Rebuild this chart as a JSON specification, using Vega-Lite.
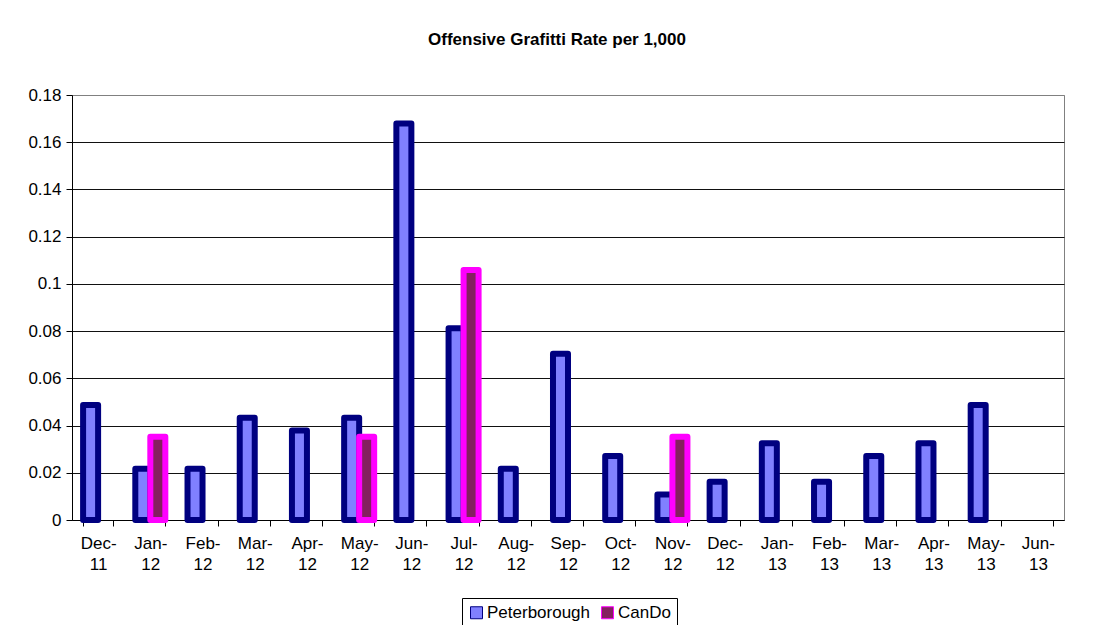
{
  "$schema": "https://vega.github.io/schema/vega-lite/v6.json",
  "autosize": "none",
  "padding": {"left": 72, "top": 95, "right": 31, "bottom": 105},
  "width": 992,
  "height": 425,
  "background": "white",
  "title": {
    "text": "Offensive Grafitti Rate per 1,000",
    "font": "Liberation Sans",
    "fontSize": 17,
    "fontWeight": "bold",
    "color": "#000000",
    "anchor": "middle",
    "frame": "group",
    "baseline": "alphabetic",
    "dx": -11,
    "offset": 24
  },
  "data": {
    "values": [
      {"month": "Dec-11", "series": "Peterborough", "rate": 0.0487},
      {"month": "Jan-12", "series": "Peterborough", "rate": 0.0217},
      {"month": "Jan-12", "series": "CanDo", "rate": 0.0353},
      {"month": "Feb-12", "series": "Peterborough", "rate": 0.0217},
      {"month": "Mar-12", "series": "Peterborough", "rate": 0.0433},
      {"month": "Apr-12", "series": "Peterborough", "rate": 0.0379},
      {"month": "May-12", "series": "Peterborough", "rate": 0.0433},
      {"month": "May-12", "series": "CanDo", "rate": 0.0353},
      {"month": "Jun-12", "series": "Peterborough", "rate": 0.1679},
      {"month": "Jul-12", "series": "Peterborough", "rate": 0.0812},
      {"month": "Jul-12", "series": "CanDo", "rate": 0.1059},
      {"month": "Aug-12", "series": "Peterborough", "rate": 0.0217},
      {"month": "Sep-12", "series": "Peterborough", "rate": 0.0704},
      {"month": "Oct-12", "series": "Peterborough", "rate": 0.0271},
      {"month": "Nov-12", "series": "Peterborough", "rate": 0.0108},
      {"month": "Nov-12", "series": "CanDo", "rate": 0.0353},
      {"month": "Dec-12", "series": "Peterborough", "rate": 0.0162},
      {"month": "Jan-13", "series": "Peterborough", "rate": 0.0325},
      {"month": "Feb-13", "series": "Peterborough", "rate": 0.0162},
      {"month": "Mar-13", "series": "Peterborough", "rate": 0.0271},
      {"month": "Apr-13", "series": "Peterborough", "rate": 0.0325},
      {"month": "May-13", "series": "Peterborough", "rate": 0.0487}
    ]
  },
  "mark": {"type": "bar", "strokeWidth": 6, "strokeJoin": "round"},
  "encoding": {
    "x": {
      "field": "month",
      "type": "nominal",
      "sort": null,
      "scale": {
        "domain": ["Dec-11", "Jan-12", "Feb-12", "Mar-12", "Apr-12", "May-12", "Jun-12", "Jul-12", "Aug-12", "Sep-12", "Oct-12", "Nov-12", "Dec-12", "Jan-13", "Feb-13", "Mar-13", "Apr-13", "May-13", "Jun-13"],
        "paddingInner": 0.425,
        "paddingOuter": 0.2125
      },
      "axis": {
        "title": null,
        "labelAngle": 0,
        "tickBand": "extent",
        "labelExpr": "[slice(datum.label, 0, 4), slice(datum.label, 4)]",
        "labelLineHeight": 21,
        "labelBaseline": "top",
        "labelPadding": 9,
        "tickSize": 6,
        "domainColor": "#000000",
        "tickColor": "#000000",
        "labelColor": "#000000",
        "labelFont": "Liberation Sans",
        "labelFontSize": 17,
        "grid": false
      }
    },
    "xOffset": {
      "field": "series",
      "type": "nominal",
      "scale": {"domain": ["Peterborough", "CanDo"], "paddingInner": 0, "paddingOuter": 0}
    },
    "y": {
      "field": "rate",
      "type": "quantitative",
      "scale": {"domain": [0, 0.18], "nice": false},
      "axis": {
        "title": null,
        "values": [0, 0.02, 0.04, 0.06, 0.08, 0.1, 0.12, 0.14, 0.16, 0.18],
        "format": "~g",
        "grid": true,
        "gridColor": {"condition": {"test": "datum.value >= 0.18", "value": "#808080"}, "value": "#111111"},
        "gridWidth": 1,
        "tickSize": 6,
        "labelPadding": 5,
        "domainColor": "#000000",
        "tickColor": "#000000",
        "labelColor": "#000000",
        "labelFont": "Liberation Sans",
        "labelFontSize": 17
      }
    },
    "fill": {
      "field": "series",
      "type": "nominal",
      "scale": {"domain": ["Peterborough", "CanDo"], "range": ["#8080FF", "#84205F"]},
      "legend": {
        "title": null,
        "orient": "none",
        "legendX": 390,
        "legendY": 503,
        "direction": "horizontal",
        "strokeColor": "#000000",
        "fillColor": "#ffffff",
        "padding": 6,
        "symbolType": "square",
        "symbolSize": 144,
        "symbolStrokeWidth": 1,
        "labelOffset": 2,
        "columnPadding": 8,
        "labelFont": "Liberation Sans",
        "labelFontSize": 17,
        "labelColor": "#000000"
      }
    },
    "stroke": {
      "field": "series",
      "type": "nominal",
      "scale": {"domain": ["Peterborough", "CanDo"], "range": ["#000080", "#FF00FF"]},
      "legend": {
        "title": null,
        "orient": "none",
        "legendX": 390,
        "legendY": 503,
        "direction": "horizontal",
        "strokeColor": "#000000",
        "fillColor": "#ffffff",
        "padding": 6,
        "symbolType": "square",
        "symbolSize": 144,
        "symbolStrokeWidth": 1,
        "labelOffset": 2,
        "columnPadding": 8,
        "labelFont": "Liberation Sans",
        "labelFontSize": 17,
        "labelColor": "#000000"
      }
    }
  },
  "config": {
    "view": {"stroke": "#808080", "strokeWidth": 1}
  }
}
